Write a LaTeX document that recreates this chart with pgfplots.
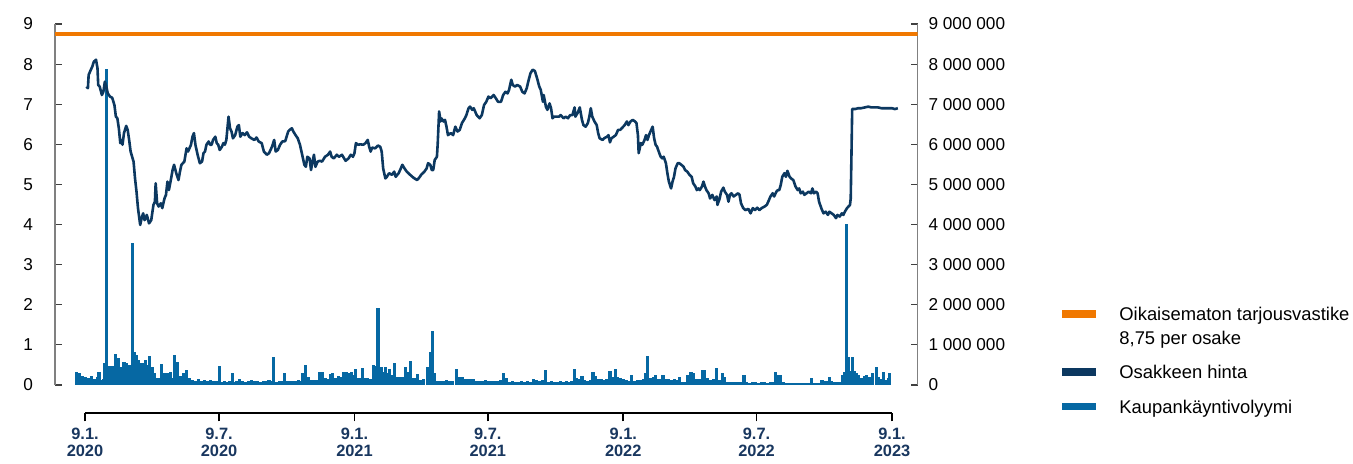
\documentclass[border=0pt]{standalone}
\usepackage{pgfplots}
\usepackage{pgfplotstable}
\pgfplotsset{compat=1.18}
\usepackage{fontspec}
\setmainfont{Liberation Sans}

\definecolor{tarjous}{RGB}{240,120,0}
\definecolor{hintavari}{RGB}{12,56,96}
\definecolor{volyymivari}{RGB}{6,104,163}
\definecolor{akseli}{RGB}{128,128,128}
\definecolor{pvm}{RGB}{25,55,95}

% x = days since 9.1.2020
\pgfplotstableread{
day price
2 7.44
4 7.40
5 7.73
8 7.86
10 7.94
12 8.06
15 8.11
17 7.90
18 7.48
20 7.44
23 7.23
25 7.31
27 7.56
29 7.44
31 7.27
34 7.19
37 7.16
40 6.98
42 6.69
44 6.65
46 6.40
48 6.03
50 6.11
51 5.99
53 6.28
56 6.46
58 6.36
60 6.11
62 5.82
66 5.57
68 5.15
70 4.82
72 4.41
75 3.99
77 4.16
79 4.28
81 4.11
84 4.24
87 4.03
90 4.11
93 4.49
95 4.57
96 5.03
98 4.53
100 4.45
103 4.53
105 4.41
108 4.65
110 4.74
112 5.07
114 4.86
117 5.15
119 5.36
121 5.49
124 5.28
127 5.11
129 5.32
131 5.49
135 5.57
138 5.90
140 5.82
144 5.99
146 6.19
148 6.28
150 5.99
153 5.74
156 5.53
159 5.57
161 5.78
163 5.82
165 5.99
168 6.07
170 5.99
172 5.99
174 6.11
177 6.19
179 6.03
181 5.99
183 5.86
186 5.94
188 6.03
190 5.99
192 6.11
195 6.69
197 6.40
199 6.32
201 6.15
204 6.23
207 6.44
209 6.48
211 6.19
214 6.28
217 6.23
220 6.30
223 6.19
226 6.15
230 6.11
233 6.17
236 6.07
240 6.03
243 5.82
247 5.74
250 5.78
254 5.94
257 6.11
259 5.82
262 5.86
265 5.99
268 6.07
272 6.08
276 6.32
278 6.36
281 6.40
283 6.32
286 6.23
289 6.15
292 5.99
295 5.74
298 5.49
300 5.44
302 5.69
305 5.65
307 5.36
309 5.57
311 5.74
313 5.44
316 5.57
319 5.59
322 5.57
326 5.69
330 5.74
333 5.82
335 5.69
338 5.65
342 5.74
345 5.69
349 5.74
352 5.65
354 5.59
358 5.65
361 5.74
364 5.69
366 5.78
368 6.03
371 5.99
374 6.00
378 5.99
381 6.03
384 6.11
386 5.94
388 5.82
390 5.92
394 5.90
398 5.97
401 5.94
403 5.82
405 5.40
408 5.15
410 5.19
413 5.28
417 5.24
420 5.32
422 5.19
426 5.28
429 5.40
431 5.49
434 5.40
437 5.32
441 5.25
446 5.17
451 5.11
454 5.17
457 5.25
461 5.32
464 5.40
466 5.53
469 5.49
471 5.36
473 5.36
475 5.61
478 5.69
479 5.99
481 6.82
483 6.57
484 6.65
487 6.57
489 6.61
491 6.44
493 6.23
497 6.28
500 6.23
503 6.44
506 6.32
509 6.36
512 6.53
516 6.65
518 6.73
521 6.90
523 6.94
526 6.86
528 6.90
532 6.73
536 6.65
539 6.73
542 6.98
545 7.06
548 7.19
551 7.15
555 7.23
558 7.15
561 7.06
565 7.06
568 7.23
571 7.31
574 7.27
576 7.36
579 7.61
581 7.48
584 7.44
587 7.48
591 7.44
594 7.31
597 7.27
600 7.40
602 7.56
605 7.77
608 7.86
611 7.83
614 7.65
617 7.44
619 7.36
622 7.06
623 7.23
626 6.94
628 6.86
631 7.02
633 6.90
635 6.65
637 6.69
641 6.69
644 6.69
646 6.73
650 6.65
653 6.69
656 6.65
659 6.73
662 6.73
665 6.92
666 6.69
669 6.78
672 6.92
675 6.61
677 6.48
680 6.44
683 6.53
685 6.69
687 6.90
689 6.69
692 6.57
695 6.48
697 6.28
699 6.15
703 6.11
705 6.15
709 6.19
711 6.23
713 6.05
715 6.15
718 6.19
721 6.23
724 6.36
727 6.36
730 6.42
733 6.48
736 6.57
738 6.48
741 6.57
744 6.61
747 6.57
749 6.53
751 6.23
752 5.78
755 6.03
757 5.99
760 6.11
762 6.23
764 6.11
766 6.23
769 6.36
771 6.44
773 6.15
775 5.99
777 5.94
780 5.78
782 5.69
784 5.65
786 5.69
789 5.53
791 5.28
793 5.07
796 4.90
798 5.07
800 5.19
802 5.40
805 5.53
807 5.53
810 5.49
813 5.44
815 5.36
818 5.32
821 5.24
824 5.19
826 5.03
829 4.95
831 4.86
833 4.90
835 4.86
838 4.95
840 5.07
842 4.95
844 4.86
847 4.78
849 4.65
852 4.74
855 4.61
858 4.70
859 4.49
862 4.65
864 4.82
867 4.92
869 4.82
872 4.74
874 4.57
876 4.74
878 4.78
881 4.70
884 4.74
887 4.78
889 4.74
891 4.53
894 4.41
897 4.36
901 4.39
904 4.28
907 4.41
910 4.36
913 4.42
916 4.36
919 4.41
923 4.45
926 4.49
928 4.57
931 4.70
934 4.78
936 4.70
939 4.82
941 4.86
943 4.86
945 4.99
947 5.19
950 5.28
952 5.19
954 5.34
957 5.19
959 5.15
962 5.11
965 4.95
968 4.86
970 4.90
972 4.78
975 4.82
977 4.74
980 4.78
983 4.82
986 4.78
988 4.90
990 4.78
993 4.82
995 4.78
997 4.57
1000 4.41
1003 4.28
1006 4.32
1009 4.24
1011 4.32
1014 4.28
1017 4.24
1020 4.16
1022 4.24
1025 4.20
1028 4.28
1030 4.24
1032 4.32
1035 4.41
1037 4.45
1039 4.49
1040 4.65
1041 5.74
1042 6.88
1046 6.88
1050 6.90
1054 6.90
1059 6.92
1064 6.94
1068 6.92
1073 6.92
1077 6.92
1082 6.90
1087 6.90
1091 6.90
1096 6.90
1100 6.88
1104 6.90
}\hintadata

\pgfplotstableread{
day vol
-11 320000
-7 300000
-3 220000
1 200000
5 180000
9 220000
13 160000
17 190000
19 330000
21 120000
25 150000
27 540000
29 7880000
33 470000
37 470000
41 770000
45 670000
49 460000
53 580000
57 540000
61 500000
64 3540000
67 830000
70 750000
73 620000
76 560000
79 560000
82 620000
85 500000
88 720000
91 460000
95 290000
99 170000
101 170000
104 520000
108 290000
112 290000
116 330000
119 170000
121 750000
124 220000
126 580000
130 220000
134 310000
138 370000
142 170000
146 120000
150 100000
154 140000
158 110000
162 130000
166 100000
170 120000
174 90000
178 110000
183 470000
186 80000
190 90000
194 70000
197 100000
200 310000
203 80000
206 90000
210 140000
214 90000
218 80000
222 100000
226 120000
230 90000
234 100000
238 80000
242 110000
246 90000
250 120000
253 100000
256 710000
260 80000
264 90000
267 100000
271 310000
274 100000
278 90000
282 110000
286 100000
290 120000
293 100000
296 290000
300 500000
304 210000
308 120000
312 130000
315 120000
318 330000
320 150000
322 330000
326 170000
330 150000
333 270000
336 290000
340 170000
344 220000
348 200000
351 320000
355 320000
358 300000
362 320000
365 250000
368 400000
372 170000
374 170000
377 430000
380 170000
384 170000
388 150000
392 500000
395 480000
398 1920000
400 370000
403 460000
406 330000
408 460000
411 290000
413 410000
416 250000
420 560000
424 200000
428 200000
432 210000
435 460000
438 330000
442 610000
446 170000
450 170000
452 270000
456 120000
460 150000
465 460000
469 830000
472 1350000
475 290000
479 100000
483 110000
487 90000
491 120000
495 100000
499 110000
504 410000
508 200000
512 190000
516 140000
520 150000
524 140000
528 160000
532 100000
536 110000
540 100000
544 120000
548 90000
552 100000
556 110000
560 100000
564 120000
569 310000
573 170000
577 80000
581 90000
585 70000
589 80000
593 90000
597 80000
601 100000
605 80000
609 140000
613 120000
617 90000
621 130000
626 370000
630 80000
634 90000
638 70000
642 80000
646 100000
650 80000
654 90000
658 80000
661 90000
665 390000
668 170000
672 160000
675 220000
679 120000
683 110000
687 120000
690 330000
693 220000
697 140000
701 140000
705 130000
709 150000
713 350000
716 200000
720 410000
723 200000
727 170000
731 150000
735 120000
739 100000
742 250000
745 110000
748 100000
751 120000
755 120000
758 140000
761 290000
764 720000
768 170000
772 200000
775 250000
779 140000
783 140000
785 250000
789 140000
793 140000
797 130000
801 140000
804 130000
807 210000
811 80000
815 70000
819 250000
823 330000
826 290000
830 140000
834 140000
837 130000
839 370000
842 370000
846 170000
850 120000
854 140000
858 430000
862 120000
866 290000
869 200000
873 80000
877 80000
881 70000
885 80000
889 80000
892 70000
895 260000
899 70000
903 60000
907 70000
911 80000
915 60000
919 70000
923 80000
927 60000
931 70000
935 70000
938 330000
942 260000
945 260000
949 70000
953 60000
957 50000
961 60000
965 50000
969 60000
973 50000
977 60000
981 50000
985 60000
987 170000
990 60000
993 50000
997 60000
1001 120000
1005 110000
1008 100000
1011 190000
1014 110000
1017 80000
1021 70000
1025 80000
1029 250000
1032 330000
1034 4010000
1037 710000
1039 360000
1042 690000
1045 360000
1048 290000
1051 250000
1055 170000
1059 220000
1062 250000
1066 200000
1070 310000
1075 460000
1078 210000
1082 150000
1085 330000
1088 120000
1091 170000
1093 300000
}\volyymidata

\pgfplotsset{
  yhteinen/.style={
    scale only axis,
    anchor=south west,
    at={(27.5pt,39.5pt)},
    width=431.25pt, height=180.5pt,
    xmin=-40.7, xmax=1130.7,
    axis x line=none,
    tick align=inside,
    major tick length=3.5pt,
    ytick style={draw=black!75, line width=0.6pt},
    y axis line style={-, draw=akseli, line width=0.9pt},
    /pgf/number format/assume math mode=true,
  },
}

\begin{document}
\begin{tikzpicture}
\useasboundingbox (0,0) rectangle (676.5pt,232pt);

% volume, right axis
\begin{axis}[yhteinen,
  ymin=0, ymax=9000000,
  axis y line*=right,
  ytick={0,1000000,2000000,3000000,4000000,5000000,6000000,7000000,8000000,9000000},
  scaled y ticks=false,
  yticklabel style={font=\fontsize{8.6}{10}\selectfont, xshift=2pt,
    /pgf/number format/fixed, /pgf/number format/precision=0,
    /pgf/number format/1000 sep={\ }},
]
\addplot[ycomb, draw=volyymivari, line width=1.55pt] table[x=day, y=vol] {\volyymidata};
\end{axis}

% price, left axis
\begin{axis}[yhteinen,
  ymin=0, ymax=9,
  axis y line*=left,
  ytick={0,1,...,9},
  yticklabel style={font=\fontsize{8.6}{10}\selectfont, xshift=-7.5pt},
]
\addplot[draw=tarjous, line width=1.6pt] coordinates {(-40.7,8.75) (1130.7,8.75)};
\addplot[draw=hintavari, line width=1.3pt, line join=round] table[x=day, y=price] {\hintadata};
\end{axis}

% date axis
\begin{axis}[
  scale only axis,
  anchor=south west,
  at={(42.5pt,25.35pt)},
  width=403.5pt, height=5pt,
  xmin=0, xmax=1096, ymin=0, ymax=1,
  axis y line=none,
  axis x line=bottom,
  x axis line style={-, draw=black, line width=0.8pt},
  xtick={0,182,366,547,731,912,1096},
  xticklabels={{9.1.\\2020},{9.7.\\2020},{9.1.\\2021},{9.7.\\2021},{9.1.\\2022},{9.7.\\2022},{9.1.\\2023}},
  tick align=outside,
  major tick length=4pt,
  xtick style={draw=black, line width=0.8pt},
  xticklabel style={align=center, text=pvm, font=\bfseries\fontsize{8.2}{8.4}\selectfont},
]
\end{axis}

% legend
\begin{scope}[font=\fontsize{9.2}{11}\selectfont]
\draw[tarjous, line width=3.7pt] (531pt,75pt) -- (548pt,75pt);
\node[anchor=base west, inner sep=0pt] at (559.5pt,71.75pt) {Oikaisematon tarjousvastike};
\node[anchor=base west, inner sep=0pt] at (559.5pt,59.9pt) {8,75 per osake};
\draw[hintavari, line width=3.7pt] (531pt,46pt) -- (548pt,46pt);
\node[anchor=base west, inner sep=0pt] at (559.5pt,42.75pt) {Osakkeen hinta};
\draw[volyymivari, line width=3.7pt] (531pt,28.65pt) -- (548pt,28.65pt);
\node[anchor=base west, inner sep=0pt] at (559.5pt,25.4pt) {Kaupankäyntivolyymi};
\end{scope}
\end{tikzpicture}
\end{document}
